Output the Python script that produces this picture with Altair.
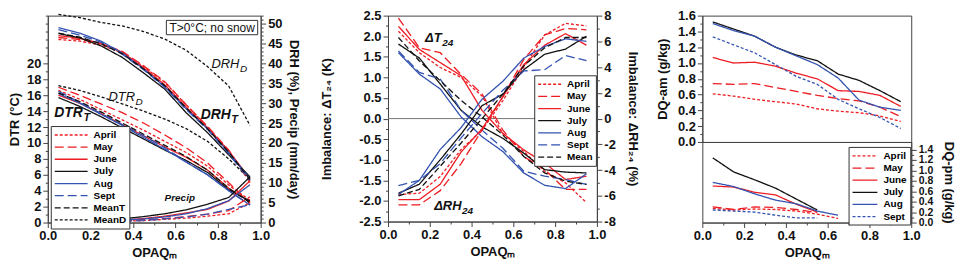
import altair as alt
import pandas as pd

# ---------------- data ----------------
OPAQ = [0.05, 0.15, 0.25, 0.35, 0.45, 0.55, 0.65, 0.75, 0.85, 0.95]
MONTHS = ["April", "May", "June", "July", "Aug", "Sept"]

# Panel 1 (left axis: DTR degC ; right axis: DRH %, Precip mm/day)
DTR_T = {
    "April": [16.6, 15.5, 14.2, 12.9, 11.6, 10.2, 8.8, 7.1, 4.7, 2.8],
    "May":   [17.0, 16.0, 14.9, 13.8, 12.5, 11.0, 9.4, 7.5, 5.0, 2.4],
    "June":  [16.0, 15.0, 13.7, 12.3, 10.9, 9.5, 8.2, 6.6, 4.3, 2.6],
    "July":  [15.7, 14.6, 13.3, 11.9, 10.5, 9.1, 7.8, 6.3, 4.1, 2.7],
    "Aug":   [16.2, 15.0, 13.6, 12.2, 10.7, 9.2, 7.6, 6.0, 4.0, 2.2],
    "Sept":  [16.5, 15.1, 13.7, 12.3, 10.9, 9.4, 7.6, 6.0, 4.0, 2.2],
}
MEANT_DTR = [16.3, 15.2, 13.9, 12.5, 11.1, 9.7, 8.3, 6.6, 4.3, 2.5]
MEAND_DTR = [17.2, 16.6, 15.8, 14.9, 14.0, 13.0, 11.8, 10.2, 8.0, 5.4]

DRH_T = {
    "April": [46.0, 45.6, 44.6, 42.6, 39.2, 35.2, 29.6, 24.0, 18.0, 10.5],
    "May":   [46.5, 46.0, 45.0, 43.0, 39.4, 35.4, 29.6, 24.2, 18.2, 10.0],
    "June":  [47.0, 46.3, 45.0, 42.8, 38.9, 34.6, 29.0, 23.8, 18.0, 11.0],
    "July":  [47.5, 46.4, 44.4, 41.5, 37.6, 33.5, 27.6, 22.6, 17.0, 11.5],
    "Aug":   [49.0, 47.6, 45.6, 42.6, 38.6, 34.1, 28.6, 23.6, 17.6, 11.0],
    "Sept":  [48.5, 47.1, 45.3, 42.3, 38.4, 34.0, 28.4, 23.4, 17.3, 10.5],
}
MEANT_DRH = [47.6, 46.6, 44.9, 42.4, 38.6, 34.4, 28.8, 23.6, 17.7, 10.8]
MEAND_DRH = [52.3, 51.5, 50.3, 49.4, 48.0, 46.1, 43.3, 39.2, 34.3, 24.4]

PRECIP = {
    "April": [0.0, 0.05, 0.1, 0.3, 0.5, 0.8, 1.1, 1.6, 2.2, 5.0],
    "May":   [0.0, 0.1, 0.2, 0.4, 0.7, 1.0, 1.5, 2.1, 3.0, 6.5],
    "June":  [0.05, 0.1, 0.3, 0.6, 1.0, 1.6, 2.4, 3.3, 5.4, 10.5],
    "July":  [0.1, 0.25, 0.5, 0.9, 1.5, 2.2, 3.2, 4.6, 6.3, 11.5],
    "Aug":   [0.05, 0.15, 0.3, 0.6, 0.9, 1.4, 2.2, 3.5, 5.5, 9.5],
    "Sept":  [0.0, 0.05, 0.15, 0.3, 0.5, 0.9, 1.4, 2.1, 3.3, 4.5],
}

# Panel 2 (left: dT24 K ; right: dRH24 %)
DT24 = {
    "April": [2.12, 1.60, 1.24, 1.00, 0.55, -0.37, -0.80, -1.28, -1.56, -2.04],
    "May":   [2.44, 1.72, 1.60, 1.07, 0.60, -0.28, -0.92, -1.24, -1.72, -1.72],
    "June":  [2.24, 1.68, 1.36, 1.04, 0.20, -0.36, -0.76, -1.08, -1.48, -1.40],
    "July":  [1.81, 1.47, 0.84, 0.20, -0.20, -0.48, -0.84, -1.24, -1.30, -1.32],
    "Aug":   [1.60, 1.08, 0.72, 0.04, -0.44, -0.80, -1.32, -1.62, -1.70, -1.34],
    "Sept":  [1.64, 1.12, 0.96, 0.20, -0.28, -0.72, -1.28, -1.40, -1.48, -1.60],
    "Mean":  [1.97, 1.40, 0.92, 0.44, 0.04, -0.40, -0.92, -1.32, -1.52, -1.60],
}
DRH24 = {
    "April": [-5.9, -5.8, -4.5, -2.4, -0.9, 1.4, 4.0, 6.5, 7.4, 7.2],
    "May":   [-6.7, -6.7, -5.6, -3.5, -0.9, 1.7, 4.6, 6.5, 7.0, 6.9],
    "June":  [-6.3, -6.3, -5.1, -2.6, -0.8, 1.7, 4.2, 5.7, 6.6, 5.7],
    "July":  [-5.8, -5.1, -3.2, -1.2, 1.0, 1.9, 3.8, 5.0, 5.4, 6.4],
    "Aug":   [-5.9, -4.8, -2.4, -0.7, 1.5, 2.9, 4.7, 5.6, 6.2, 6.0],
    "Sept":  [-5.2, -4.8, -3.5, -1.5, 0.4, 2.2, 3.7, 3.8, 4.9, 4.5],
    "Mean":  [-6.0, -5.5, -3.7, -1.9, 0.0, 1.9, 4.1, 5.5, 6.3, 6.3],
}

# Panel 3 (DQ-am top, DQ-pm bottom, g/kg)
DQAM = {
    "April": [0.61, 0.58, 0.54, 0.51, 0.48, 0.42, 0.39, 0.37, 0.33, 0.26],
    "May":   [0.74, 0.73, 0.74, 0.69, 0.64, 0.59, 0.55, 0.52, 0.44, 0.32],
    "June":  [1.07, 1.00, 1.01, 0.96, 0.87, 0.80, 0.65, 0.64, 0.59, 0.45],
    "July":  [1.52, 1.43, 1.34, 1.20, 1.10, 1.03, 0.86, 0.78, 0.65, 0.51],
    "Aug":   [1.50, 1.41, 1.34, 1.20, 1.09, 0.98, 0.81, 0.53, 0.44, 0.40],
    "Sept":  [1.33, 1.23, 1.13, 0.98, 0.83, 0.73, 0.54, 0.42, 0.31, 0.17],
}
DQPM = {
    "April": [0.27, 0.24, 0.26, 0.25, 0.22, 0.16, 0.08],
    "May":   [0.30, 0.25, 0.30, 0.29, 0.25, 0.19],
    "June":  [0.70, 0.68, 0.58, 0.53, 0.35, 0.20],
    "July":  [1.24, 0.97, 0.82, 0.66, 0.45, 0.24],
    "Aug":   [0.77, 0.69, 0.55, 0.43, 0.36, 0.22, 0.14],
    "Sept":  [0.24, 0.22, 0.20, 0.14, 0.09, 0.09],
}

# annotations (data coordinates)
ANN1_MAIN = ["DRH", "DTR"]
ANN1_SUB = ["D", "D"]
ANN1_X = [0.90, 0.41]
ANN1_Y = [19.9, 15.8]
ANN1B_MAIN = ["DTR", "DRH"]
ANN1B_SUB = ["T", "T"]
ANN1B_X = [0.165, 0.86]
ANN1B_Y = [13.8, 13.5]
PRECIP_LABEL = ["Precip"]
PRECIP_XY = [0.62, 3.1]
BOX_TEXT = ["T>0°C; no snow"]
BOX_XY = [0.772, 24.5]
BOX_RANGE = [0.557, 0.986, 23.6, 25.4]

ANN2_MAIN = ["ΔT", "ΔRH"]
ANN2_SUB = ["24", "24"]
ANN2_X = [0.257, 0.352]
ANN2_Y = [1.96, -2.12]

# ---------------- styling ----------------
RED = "#ee1d23"
BLUE = "#3453b0"
BLACK = "#111111"
FONT = "Liberation Sans"
XTITLE = "OPAQₘ"
TICKX = [round(i * 0.1, 1) for i in range(11)]


def rows(dct, var):
    out = []
    for s, vals in dct.items():
        for x, v in zip(OPAQ, vals):
            out.append({"x": x, "v": v, "series": s, "line": f"{s}-{var}"})
    return out


def make_axis(orient, values, major, fmt, title=None, label_max=None, **kw):
    t = f"abs(datum.value/{major} - round(datum.value/{major})) < 0.001"
    if label_max is not None:
        t = f"({t}) && datum.value <= {label_max + 0.001}"
    return alt.Axis(
        orient=orient, values=values, title=title,
        labelExpr=f"({t}) ? replace(format(datum.value, '{fmt}'), '\u2212', '-') : ''",
        tickSize={"condition": {"test": t, "value": 5}, "value": 2.5},
        labelOverlap=False, labelFlush=False, grid=False, **kw)


def make_legend(x, y, line_len):
    k = line_len / 5.0 - 1.0
    return alt.Legend(title=None, orient="none", legendX=x, legendY=y, symbolType=f"M-1,0H{k:.2f}",
                      symbolSize=100, fillColor="white", strokeColor="#333", padding=3,
                      labelFont=FONT, labelFontSize=10, labelFontWeight="bold", rowPadding=1.2,
                      labelOffset=line_len - 10 + 5, symbolOffset=0)


def enc_style(dom, colors, dashes, widths, legend):
    return dict(
        color=alt.Color("series:N", scale=alt.Scale(domain=dom, range=colors), legend=legend),
        strokeDash=alt.StrokeDash("series:N", scale=alt.Scale(domain=dom, range=dashes), legend=legend),
        strokeWidth=alt.StrokeWidth("series:N", scale=alt.Scale(domain=dom, range=widths), legend=legend),
        detail="line:N",
    )


def sub_text_layers(df, scale_y, axis_y, xscale, xaxis, bold, size=13):
    w = "bold" if bold else "normal"
    main = alt.Chart(df).mark_text(align="right", baseline="middle", font=FONT, fontSize=size,
                                   fontStyle="italic", fontWeight=w, color=BLACK).encode(
        x=alt.X("x:Q", scale=xscale, axis=xaxis), y=alt.Y("y:Q", scale=scale_y, axis=axis_y), text="main:N")
    sub = alt.Chart(df).mark_text(align="left", baseline="middle", dy=5, dx=0.5, font=FONT, fontSize=size - 3,
                                  fontStyle="italic", fontWeight=w, color=BLACK).encode(
        x=alt.X("x:Q", scale=xscale, axis=xaxis), y=alt.Y("y:Q", scale=scale_y, axis=axis_y), text="sub:N")
    return [main, sub]


xscale = alt.Scale(domain=[0, 1], nice=False, zero=False)
xaxis_full = make_axis("bottom", TICKX, 0.2, ".1f", XTITLE)

# ================= Panel 1 =================
dom1 = MONTHS + ["MeanT", "MeanD"]
col1 = [RED, RED, RED, BLACK, BLUE, BLUE, BLACK, BLACK]
dash1 = [[3, 2], [9, 4], [1, 0], [1, 0], [1, 0], [9, 4], [6, 3], [3, 2]]
wid1 = [1.3, 1.3, 1.3, 1.3, 1.3, 1.3, 2.6, 1.1]
leg1 = make_legend(3, 111, 33)

left1 = rows(DTR_T, "dtr") + rows({"MeanT": MEANT_DTR}, "dtr") + rows({"MeanD": MEAND_DTR}, "dtrd")
right1 = (rows(DRH_T, "drh") + rows(PRECIP, "pr") + rows({"MeanT": MEANT_DRH}, "drh")
          + rows({"MeanD": MEAND_DRH}, "drhd"))

ys1L = alt.Scale(domain=[0, 26], nice=False)
ax1L = make_axis("left", list(range(0, 27)), 2, "d", "DTR (°C)", label_max=20, titlePadding=5)
ys1R = alt.Scale(domain=[0, 52], nice=False)
ax1R = make_axis("right", list(range(0, 53)), 5, "d", "DRH (%), Precip (mm/day)", titlePadding=5)

lines1L = alt.Chart(pd.DataFrame(left1)).mark_line().encode(
    x=alt.X("x:Q", scale=xscale, axis=xaxis_full),
    y=alt.Y("v:Q", scale=ys1L, axis=ax1L),
    **enc_style(dom1, col1, dash1, wid1, leg1))
lines1R = alt.Chart(pd.DataFrame(right1)).mark_line().encode(
    x=alt.X("x:Q", scale=xscale, axis=xaxis_full),
    y=alt.Y("v:Q", scale=ys1R, axis=ax1R),
    **enc_style(dom1, col1, dash1, wid1, leg1))

annA = pd.DataFrame({"main": ANN1_MAIN, "sub": ANN1_SUB, "x": ANN1_X, "y": ANN1_Y})
annB = pd.DataFrame({"main": ANN1B_MAIN, "sub": ANN1B_SUB, "x": ANN1B_X, "y": ANN1B_Y})
precip_df = pd.DataFrame({"t": PRECIP_LABEL, "x": [PRECIP_XY[0]], "y": [PRECIP_XY[1]]})
box_df = pd.DataFrame({"t": BOX_TEXT, "x": [BOX_XY[0]], "y": [BOX_XY[1]],
                       "x0": [BOX_RANGE[0]], "x1": [BOX_RANGE[1]], "y0": [BOX_RANGE[2]], "y1": [BOX_RANGE[3]]})

precip_txt = alt.Chart(precip_df).mark_text(font=FONT, fontSize=10, fontStyle="italic", fontWeight="bold",
                                            color=BLACK).encode(
    x=alt.X("x:Q", scale=xscale, axis=xaxis_full), y=alt.Y("y:Q", scale=ys1L, axis=ax1L), text="t:N")
box_rect = alt.Chart(box_df).mark_rect(fill="white", stroke="#333", strokeWidth=1).encode(
    x=alt.X("x0:Q", scale=xscale, axis=xaxis_full), x2="x1:Q",
    y=alt.Y("y0:Q", scale=ys1L, axis=ax1L), y2="y1:Q")
box_txt = alt.Chart(box_df).mark_text(font=FONT, fontSize=12, color=BLACK).encode(
    x=alt.X("x:Q", scale=xscale, axis=xaxis_full), y=alt.Y("y:Q", scale=ys1L, axis=ax1L), text="t:N")

leftgroup1 = alt.layer(
    lines1L, *sub_text_layers(annA, ys1L, ax1L, xscale, xaxis_full, False),
    *sub_text_layers(annB, ys1L, ax1L, xscale, xaxis_full, True, size=14),
    precip_txt, box_rect, box_txt)
p1 = alt.layer(leftgroup1, lines1R).resolve_scale(y="independent").properties(width=214, height=208)

# ================= Panel 2 =================
dom2 = MONTHS + ["Mean"]
col2 = [RED, RED, RED, BLACK, BLUE, BLUE, BLACK]
dash2 = [[3, 2], [9, 4], [1, 0], [1, 0], [1, 0], [9, 4], [6, 3]]
wid2 = [1.3, 1.3, 1.3, 1.3, 1.3, 1.3, 2.6]
leg2 = make_legend(147, 60, 23)
ys2L = alt.Scale(domain=[-2.5, 2.5], nice=False)
ax2L = make_axis("left", [round(-2.5 + 0.25 * i, 2) for i in range(21)], 0.5, ".1f",
                 "Imbalance: ΔT₂₄ (K)", titlePadding=25)
ys2R = alt.Scale(domain=[-8, 8], nice=False)
ax2R = make_axis("right", list(range(-8, 9)), 2, "d", "Imbalance: ΔRH₂₄ (%)", titlePadding=10)

lines2L = alt.Chart(pd.DataFrame(rows(DT24, "dt"))).mark_line().encode(
    x=alt.X("x:Q", scale=xscale, axis=xaxis_full),
    y=alt.Y("v:Q", scale=ys2L, axis=ax2L),
    **enc_style(dom2, col2, dash2, wid2, leg2))
lines2R = alt.Chart(pd.DataFrame(rows(DRH24, "drh"))).mark_line().encode(
    x=alt.X("x:Q", scale=xscale, axis=xaxis_full),
    y=alt.Y("v:Q", scale=ys2R, axis=ax2R),
    **enc_style(dom2, col2, dash2, wid2, leg2))
zero2 = alt.Chart(pd.DataFrame({"z": [0.0]})).mark_rule(color="#777", strokeWidth=1).encode(
    y=alt.Y("z:Q", scale=ys2L, axis=ax2L))
ann2 = pd.DataFrame({"main": ANN2_MAIN, "sub": ANN2_SUB, "x": ANN2_X, "y": ANN2_Y})
leftgroup2 = alt.layer(zero2, lines2L, *sub_text_layers(ann2, ys2L, ax2L, xscale, xaxis_full, True))
p2 = alt.layer(leftgroup2, lines2R).resolve_scale(y="independent").properties(width=210, height=207)

# ================= Panel 3 =================
dom3 = MONTHS
col3 = [RED, RED, RED, BLACK, BLUE, BLUE]
dash3 = [[3, 2], [9, 4], [1, 0], [1, 0], [1, 0], [3, 2]]
wid3 = [1.3, 1.3, 1.3, 1.3, 1.3, 1.3]
leg3 = make_legend(147, 5, 25)

am_rows = rows(DQAM, "am")
pm_rows = []
for s, vals in DQPM.items():
    for x, v in zip(OPAQ, vals):
        pm_rows.append({"x": x, "v": v, "series": s, "line": f"{s}-pm"})

ys3T = alt.Scale(domain=[0, 1.6], nice=False)
ax3T = make_axis("left", [round(0.1 * i, 1) for i in range(17)], 0.2, ".1f", "DQ-am (g/kg)", titlePadding=8)
top3 = alt.Chart(pd.DataFrame(am_rows)).mark_line().encode(
    x=alt.X("x:Q", scale=xscale, axis=None),
    y=alt.Y("v:Q", scale=ys3T, axis=ax3T),
    **enc_style(dom3, col3, dash3, wid3, None)).properties(width=210, height=127)

ys3B = alt.Scale(domain=[0, 1.545], nice=False)
ax3B = make_axis("right", [round(0.1 * i, 1) for i in range(15)], 0.2, ".1f", "DQ-pm (g/kg)",
                 titlePadding=9, labelFontSize=10.5)
bot3 = alt.Chart(pd.DataFrame(pm_rows)).mark_line().encode(
    x=alt.X("x:Q", scale=xscale, axis=xaxis_full),
    y=alt.Y("v:Q", scale=ys3B, axis=ax3B),
    **enc_style(dom3, col3, dash3, wid3, leg3)).properties(width=210, height=81)

p3 = alt.vconcat(top3, bot3, spacing=0, bounds="flush").resolve_scale(
    color="independent", strokeDash="independent", strokeWidth="independent")

left_pair = alt.hconcat(p1, p2, spacing=20).resolve_scale(
    color="independent", strokeDash="independent", strokeWidth="independent")
chart = alt.hconcat(left_pair, p3, spacing=16).resolve_scale(
    color="independent", strokeDash="independent", strokeWidth="independent")

chart = chart.properties(padding={"left": 0, "top": 0, "right": 0, "bottom": 0}).configure_axis(
    labelFont=FONT, labelFontWeight="bold", labelFontSize=13, labelColor=BLACK, labelPadding=2,
    titleFont=FONT, titleFontWeight="bold", titleFontSize=13, titleColor=BLACK, titlePadding=4,
    domainColor="#444", tickColor="#444",
).configure_view(stroke="#444", strokeWidth=1)

chart.save("out.html", embed_options={"renderer": "svg", "actions": False})
